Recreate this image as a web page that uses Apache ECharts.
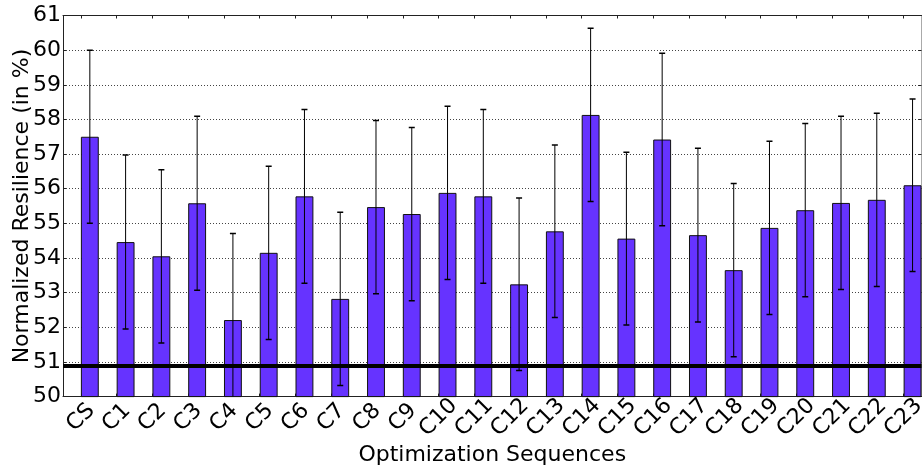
<!DOCTYPE html>
<html>
<head>
<meta charset="utf-8">
<script src="https://cdn.jsdelivr.net/npm/echarts@6/dist/echarts.min.js"></script>
<style>
html,body{margin:0;padding:0;background:#fff;}
#chart{width:922px;height:468px;}
</style>
</head>
<body>
<div id="chart"></div>
<script>
const categories = ['CS','C1','C2','C3','C4','C5','C6','C7','C8','C9','C10','C11','C12','C13','C14','C15','C16','C17','C18','C19','C20','C21','C22','C23'];
const means = [57.5, 54.46, 54.05, 55.58, 52.21, 54.15, 55.78, 52.82, 55.47, 55.27, 55.88, 55.78, 53.24, 54.77, 58.13, 54.56, 57.42, 54.66, 53.65, 54.87, 55.38, 55.59, 55.68, 56.1];
const stds = [2.5, 2.51, 2.5, 2.51, 2.5, 2.5, 2.51, 2.5, 2.5, 2.5, 2.5, 2.51, 2.49, 2.49, 2.5, 2.49, 2.49, 2.51, 2.5, 2.5, 2.5, 2.5, 2.5, 2.49];
const baseline = 50.88;
const yTicks = {min: 50, max: 61, interval: 1};

const FONT = 'DejaVu Sans';
const chart = echarts.init(document.getElementById('chart'), null, {renderer: 'canvas'});

const errData = categories.map((c, i) => [i, means[i], stds[i]]);

const option = {
  animation: false,
  backgroundColor: '#fff',
  grid: {left: 63, right: 0.5, top: 15.5, bottom: 71.4, containLabel: false, outerBoundsMode: 'none'},
  xAxis: [
    {
      type: 'category', data: categories, position: 'bottom',
      boundaryGap: true,
      axisLine: {show: true, lineStyle: {color: '#222', width: 1}},
      axisTick: {show: true, inside: true, alignWithLabel: true, length: 3, lineStyle: {color: '#222'}},
      axisLabel: {
        show: true, rotate: 45, interval: 0, align: 'center', verticalAlign: 'middle',
        margin: 21, color: '#000', fontFamily: FONT, fontSize: 22
      },
      splitLine: {show: false},
      name: 'Optimization Sequences', nameLocation: 'middle', nameGap: 48, nameMoveOverlap: false,
      nameTextStyle: {color: '#000', fontFamily: FONT, fontSize: 22}
    },
    {
      type: 'category', data: categories, position: 'top',
      boundaryGap: true,
      axisLine: {show: true, lineStyle: {color: '#222', width: 1}},
      axisTick: {show: true, inside: true, alignWithLabel: true, length: 3, lineStyle: {color: '#222'}},
      axisLabel: {show: false},
      splitLine: {show: false}
    }
  ],
  yAxis: [
    {
      type: 'value', position: 'left', min: yTicks.min, max: yTicks.max, interval: yTicks.interval,
      axisLine: {show: true, lineStyle: {color: '#222', width: 1}},
      axisTick: {show: true, inside: true, length: 3, lineStyle: {color: '#222'}},
      axisLabel: {show: true, margin: 2, color: '#000', fontFamily: FONT, fontSize: 22},
      splitLine: {show: true, lineStyle: {color: '#444', width: 1, type: [1, 2]}},
      name: 'Normalized Resilience (in %)', nameLocation: 'middle', nameGap: 30, nameMoveOverlap: false,
      nameTextStyle: {color: '#000', fontFamily: FONT, fontSize: 22}
    },
    {
      type: 'value', position: 'right', min: yTicks.min, max: yTicks.max, interval: yTicks.interval,
      axisLine: {show: true, lineStyle: {color: '#aaa', width: 1}},
      axisTick: {show: true, inside: true, length: 3, lineStyle: {color: '#222'}},
      axisLabel: {show: false},
      splitLine: {show: false}
    }
  ],
  series: [
    {
      type: 'bar', name: 'spacer', xAxisIndex: 0, yAxisIndex: 0,
      data: categories.map(() => '-'),
      barWidth: '50%', barGap: '0%', silent: true
    },
    {
      type: 'bar', name: 'resilience', xAxisIndex: 0, yAxisIndex: 0,
      data: means,
      barWidth: '50%', barGap: '0%',
      itemStyle: {color: '#6633ff', borderColor: '#111', borderWidth: 1},
      z: 2,
      markLine: {
        silent: true, symbol: 'none', label: {show: false},
        lineStyle: {color: '#000', width: 4, type: 'solid'},
        data: [{yAxis: baseline}],
        z: 10
      }
    },
    {
      type: 'custom', name: 'err', xAxisIndex: 0, yAxisIndex: 0,
      clip: true, z: 5,
      data: errData,
      encode: {x: 0, y: 1},
      renderItem: function (params, api) {
        const i = api.value(0);
        const m = api.value(1);
        const s = api.value(2);
        const bw = api.size([1, 0])[0];
        const x = api.coord([i, m])[0] + bw * 0.25;
        const yTop = api.coord([i, m + s])[1];
        const yBot = api.coord([i, m - s])[1];
        const cap = 3;
        const st = {stroke: '#000', lineWidth: 1};
        return {
          type: 'group',
          children: [
            {type: 'line', shape: {x1: x, y1: yTop, x2: x, y2: yBot}, style: st},
            {type: 'line', shape: {x1: x - cap, y1: yTop, x2: x + cap, y2: yTop}, style: {stroke: '#000', lineWidth: 1.5}},
            {type: 'line', shape: {x1: x - cap, y1: yBot, x2: x + cap, y2: yBot}, style: {stroke: '#000', lineWidth: 1.5}}
          ]
        };
      }
    }
  ]
};
chart.setOption(option);
</script>
</body>
</html>
